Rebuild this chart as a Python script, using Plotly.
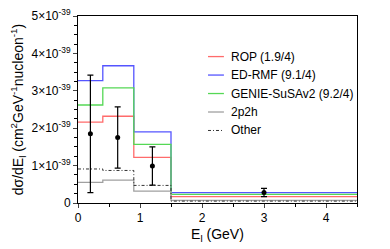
import plotly.graph_objects as go

# bin edges (GeV) and step histogram values (units of 1e-39 cm^2 GeV^-1 nucleon^-1)
bin_edges = [0.0, 0.4, 0.9, 1.5, 4.5]
rop = [2.16, 2.32, 1.22, 0.17]
edrmf = [3.27, 3.67, 1.90, 0.28]
genie = [2.62, 3.08, 1.57, 0.23]
two_p2h = [0.55, 0.61, 0.32, 0.07]
other = [0.91, 0.87, 0.47, 0.05]

# data points
data_x = [0.20, 0.64, 1.20, 3.00]
data_y = [1.85, 1.75, 0.99, 0.28]
data_err = [1.57, 0.82, 0.51, 0.11]

y_tickvals = [0, 1, 2, 3, 4, 5]
y_ticktext = ["0"] + [f"{v}×10<sup>-39</sup>" for v in y_tickvals[1:]]
x_tickvals = [0, 1, 2, 3, 4]

series = [
    ("ROP (1.9/4)", rop, "#ff6b6b", "solid"),
    ("ED-RMF (9.1/4)", edrmf, "#5555ff", "solid"),
    ("GENIE-SuSAv2 (9.2/4)", genie, "#55d855", "solid"),
    ("2p2h", two_p2h, "#a0a0a0", "solid"),
    ("Other", other, "#333333", "3px,2px,1px,2px"),
]

fig = go.Figure()
shapes = []
annotations = []
leg_y0, leg_dy = 0.783, 0.0988
for i, (name, vals, col, dash) in enumerate(series):
    w = 1.3 if dash == "solid" else 1
    fig.add_trace(go.Scatter(
        x=bin_edges, y=vals + [vals[-1]], mode="lines", name=name, showlegend=False,
        line=dict(shape="hv", color=col, width=w, dash=dash),
    ))
    ly = leg_y0 - i * leg_dy
    shapes.append(dict(type="line", xref="paper", yref="paper", x0=0.466, x1=0.523,
                       y0=ly, y1=ly, line=dict(color=col, width=w, dash=dash)))
    annotations.append(dict(xref="paper", yref="paper", x=0.541, y=ly, text=name,
                            showarrow=False, xanchor="left", yanchor="middle",
                            font=dict(size=12)))

fig.add_trace(go.Scatter(
    x=data_x, y=data_y, mode="markers", showlegend=False,
    marker=dict(color="black", size=5),
    error_y=dict(type="data", array=data_err, color="black", thickness=1.2, width=3),
))

fig.update_layout(
    width=390, height=249,
    margin=dict(l=78, r=33, t=16, b=46),
    paper_bgcolor="white", plot_bgcolor="white",
    font=dict(family="Liberation Sans, Arial, sans-serif", size=12, color="black"),
    showlegend=False,
    shapes=shapes, annotations=annotations,
    xaxis=dict(range=[0, 4.5], tickvals=x_tickvals, ticks="outside", ticklen=4,
               showline=True, linecolor="black", linewidth=1, mirror=True,
               showgrid=False, zeroline=False, automargin=False,
               minor=dict(dtick=0.5, ticks="outside", ticklen=3, tickcolor="black"),
               title=dict(text="E<sub>l</sub> (GeV)", font=dict(size=14), standoff=4)),
    yaxis=dict(range=[0, 5], tickvals=y_tickvals, ticktext=y_ticktext,
               ticks="outside", ticklen=4,
               showline=True, linecolor="black", linewidth=1, mirror=True,
               showgrid=False, zeroline=False, automargin=False,
               minor=dict(dtick=0.25, ticks="outside", ticklen=3, tickcolor="black"),
               title=dict(text="dσ/dE<sub>l</sub> (cm<sup>2</sup>GeV<sup>-1</sup>nucleon<sup>-1</sup>)",
                          font=dict(size=14), standoff=4)),
)

fig.write_html("out.html", config={"displayModeBar": False},
               post_script="document.body.style.margin='0';")
